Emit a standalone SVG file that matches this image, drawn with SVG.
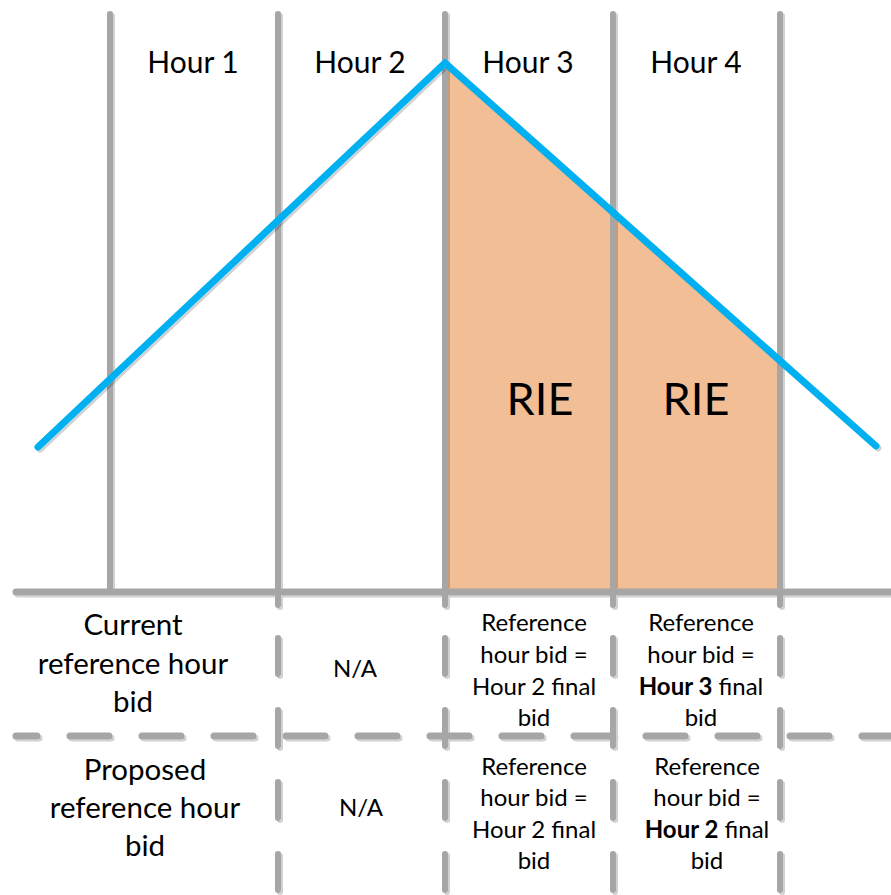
<svg xmlns="http://www.w3.org/2000/svg" width="891" height="895" viewBox="0 0 891 895">
  <defs>
    <filter id="sh" x="-5%" y="-5%" width="110%" height="110%">
      <feDropShadow dx="2" dy="2" stdDeviation="0.6" flood-color="#000" flood-opacity="0.18"/>
    </filter>
  </defs>
  <style>
    .grid { stroke: #a6a6a6; stroke-width: 6; stroke-linecap: round; fill: none; }
    .hgrid { stroke: #a6a6a6; stroke-width: 7; stroke-linecap: round; fill: none; }
    .vdash { stroke-dasharray: 36 36; }
    .hdash { stroke-dasharray: 39 33; stroke-dashoffset: 18; }
    .curve { stroke: #00b0f0; stroke-width: 7; stroke-linecap: round; stroke-linejoin: miter; fill: none; }
    text { font-family: Lato, "Open Sans", "Liberation Sans", sans-serif; fill: #000; text-anchor: middle; }
    .hour { font-size: 30px; }
    .rie { font-size: 45px; }
    .lab { font-size: 29.5px; }
    .cell { font-size: 24px; }
    .b { font-weight: bold; }
  </style>
  <rect width="891" height="895" fill="#ffffff"/>

  <g id="rie-area">
    <polygon points="445,63 780,361 780,592 445,592" fill="#f2be96"/>
  </g>

  <g id="grid" filter="url(#sh)">
    <line class="grid" x1="110" y1="14" x2="110" y2="592"/>
    <line class="grid" x1="278" y1="14" x2="278" y2="605"/>
    <line class="grid" x1="445" y1="14" x2="445" y2="605"/>
    <line class="grid" x1="613" y1="14" x2="613" y2="605"/>
    <line class="grid" x1="780" y1="14" x2="780" y2="605"/>
    <path class="grid vdash" d="M278 638 V895 M445 638 V895 M613 638 V895 M780 638 V895"/>
    <line class="hgrid" x1="16" y1="592" x2="895" y2="592"/>
    <path class="hgrid hdash" d="M16 736 H895"/>
  </g>

  <g id="curve" filter="url(#sh)">
    <polyline class="curve" points="38,447 445,63 876,446"/>
  </g>

  <g id="hour-labels">
    <text class="hour" x="193" y="73">Hour 1</text>
    <text class="hour" x="360" y="73">Hour 2</text>
    <text class="hour" x="528" y="73">Hour 3</text>
    <text class="hour" x="696" y="73">Hour 4</text>
  </g>

  <g id="rie-labels">
    <text class="rie" x="540" y="415">RIE</text>
    <text class="rie" x="696" y="415">RIE</text>
  </g>

  <g id="row-current">
    <text class="lab" x="133" y="635">Current</text>
    <text class="lab" x="133" y="674">reference hour</text>
    <text class="lab" x="133" y="712">bid</text>
    <text class="cell" x="355" y="677">N/A</text>
    <text class="cell" x="534" y="631">Reference</text>
    <text class="cell" x="534" y="663">hour bid =</text>
    <text class="cell" x="534" y="695">Hour 2 final</text>
    <text class="cell" x="534" y="726">bid</text>
    <text class="cell" x="701" y="631">Reference</text>
    <text class="cell" x="701" y="663">hour bid =</text>
    <text class="cell" x="701" y="695"><tspan class="b">Hour 3</tspan> final</text>
    <text class="cell" x="701" y="726">bid</text>
  </g>

  <g id="row-proposed">
    <text class="lab" x="145" y="780">Proposed</text>
    <text class="lab" x="145" y="818">reference hour</text>
    <text class="lab" x="145" y="856">bid</text>
    <text class="cell" x="361" y="816">N/A</text>
    <text class="cell" x="534" y="775">Reference</text>
    <text class="cell" x="534" y="806">hour bid =</text>
    <text class="cell" x="534" y="838">Hour 2 final</text>
    <text class="cell" x="534" y="869">bid</text>
    <text class="cell" x="707" y="775">Reference</text>
    <text class="cell" x="707" y="806">hour bid =</text>
    <text class="cell" x="707" y="838"><tspan class="b">Hour 2</tspan> final</text>
    <text class="cell" x="707" y="869">bid</text>
  </g>
</svg>
